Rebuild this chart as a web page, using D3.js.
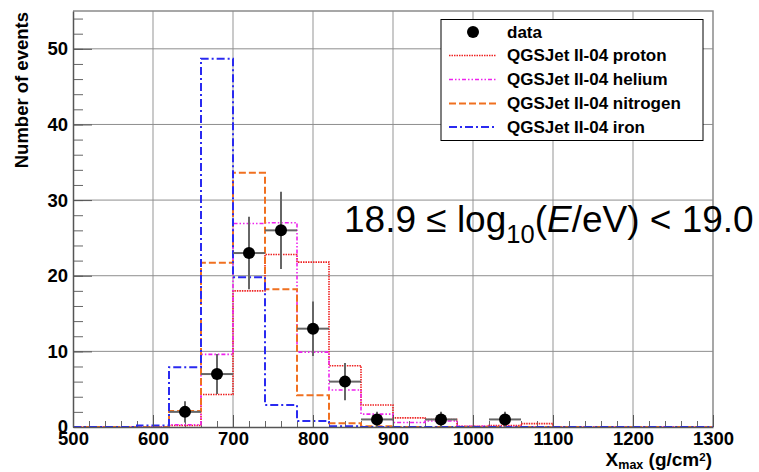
<!DOCTYPE html>
<html>
<head>
<meta charset="utf-8">
<script src="https://cdn.jsdelivr.net/npm/d3@7"></script>
<style>
  html, body { margin: 0; padding: 0; background: #fff; }
  svg { display: block; font-family: "Liberation Sans", Arial, Helvetica, sans-serif; }
</style>
</head>
<body>
<svg id="chart" width="759" height="472"></svg>
<script>
// ---- data ----
const binEdges = [500,540,580,620,660,700,740,780,820,860,900,940,980,1020,1060,1100,1140,1180,1220,1260,1300];
const proton   = [0,0,0,0.2,4.3,18.0,22.8,21.8,8.1,2.9,1.2,1.0,0.1,0.2,0.45,0,0,0,0,0];
const helium   = [0,0,0,0.3,9.6,26.9,27.0,9.9,4.9,1.7,0.6,0.8,0.1,0.05,0,0,0,0,0,0];
const nitrogen = [0,0,0,2.1,21.7,33.6,18.2,4.2,0.5,0.1,0,0,0,0,0,0,0,0,0,0];
const iron     = [0,0,0.2,7.9,48.7,19.8,2.9,0.8,0.1,0,0,0,0,0,0,0,0,0,0,0];
const dataX    = [640,680,720,760,800,840,880,960,1040];
const dataY    = [2,7,23,26,13,6,1,1,1];
const dataErr  = [1.41,2.65,4.8,5.1,3.6,2.45,1,1,1];
const dataXErr = [20,20,20,20,20,20,20,20,20];
const xTicks = [500,600,700,800,900,1000,1100,1200,1300];
const yTicks = [0,10,20,30,40,50];
const legendLabels = ["data","QGSJet II-04 proton","QGSJet II-04 helium","QGSJet II-04 nitrogen","QGSJet II-04 iron"];

// ---- layout ----
const L = 73, R = 713, T = 11, B = 427;
const svg = d3.select("#chart");
svg.append("rect").attr("width",759).attr("height",472).attr("fill","#fff");

const x = d3.scaleLinear().domain([500,1300]).range([L,R]);
const y = d3.scaleLinear().domain([0,55]).range([B,T]);

// grid
svg.append("g").selectAll("line").data(xTicks.slice(1,-1)).join("line")
  .attr("x1",d=>x(d)).attr("x2",d=>x(d)).attr("y1",T).attr("y2",B)
  .attr("stroke","#b8b8b8").attr("stroke-width",1.5);
svg.append("g").selectAll("line").data(yTicks.slice(1)).join("line")
  .attr("x1",L).attr("x2",R).attr("y1",d=>y(d)).attr("y2",d=>y(d))
  .attr("stroke","#8e8e8e").attr("stroke-width",1);

// frame top/right
svg.append("path").attr("d",`M${L},${T}H${R}V${B}`).attr("fill","none")
  .attr("stroke","#8a8a8a").attr("stroke-width",1.5);

// minor ticks
const xMinor = d3.range(500,1301,20);
const yMinor = d3.range(0,55,2);
svg.append("g").attr("transform",`translate(0,${B})`)
  .call(d3.axisBottom(x).tickValues(xMinor).tickSizeInner(-6).tickSizeOuter(0).tickFormat(""))
  .call(g=>g.select(".domain").remove())
  .call(g=>g.selectAll("line").attr("stroke","#666"));
svg.append("g").attr("transform",`translate(${L},0)`)
  .call(d3.axisLeft(y).tickValues(yMinor).tickSizeInner(-10).tickSizeOuter(0).tickFormat(""))
  .call(g=>g.select(".domain").remove())
  .call(g=>g.selectAll("line").attr("stroke","#666"));

// histograms
const stepLine = d3.line().x(d=>x(d[0])).y(d=>y(d[1])).curve(d3.curveStepAfter);
function histPts(vals){
  const pts = vals.map((v,i)=>[binEdges[i], v]);
  pts.push([binEdges[binEdges.length-1], vals[vals.length-1]]);
  return pts;
}
const series = [
  {vals: proton,   color:"#ee2222", dash:"1.5,1",       w:1.6},
  {vals: helium,   color:"#ee22ee", dash:"4,2,1.5,2,1.5,2", w:1.6},
  {vals: nitrogen, color:"#f07020", dash:"7,3",         w:2},
  {vals: iron,     color:"#2a2af0", dash:"8,3,2,3",     w:2}
];
series.forEach(s=>{
  svg.append("path").attr("d",stepLine(histPts(s.vals)))
    .attr("fill","none").attr("stroke",s.color).attr("stroke-width",s.w)
    .attr("stroke-dasharray",s.dash);
});

// axes lines (left / bottom) + major ticks
svg.append("g").attr("transform",`translate(0,${B})`)
  .call(d3.axisBottom(x).tickValues(xTicks).tickSizeInner(-12).tickSizeOuter(0).tickPadding(5).tickFormat(d3.format("d")))
  .call(g=>g.select(".domain").attr("stroke","#555").attr("stroke-width",1.5))
  .call(g=>g.selectAll("line").attr("stroke","#555"))
  .call(g=>g.selectAll("text").attr("font-size",18.5).attr("font-weight","bold").attr("fill","#000")
      .attr("font-family","'Liberation Sans', Arial, sans-serif"));
svg.append("g").attr("transform",`translate(${L},0)`)
  .call(d3.axisLeft(y).tickValues(yTicks).tickSizeInner(-19).tickSizeOuter(0).tickPadding(5).tickFormat(d3.format("d")))
  .call(g=>g.select(".domain").attr("stroke","#555").attr("stroke-width",1.5))
  .call(g=>g.selectAll("line").attr("stroke","#555"))
  .call(g=>g.selectAll("text").attr("font-size",18.5).attr("font-weight","bold").attr("fill","#000")
      .attr("font-family","'Liberation Sans', Arial, sans-serif"));

// data points
const pts = dataX.map((d,i)=>({x:d, y:dataY[i], e:dataErr[i], ex:dataXErr[i]}));
const dg = svg.append("g");
dg.selectAll("line.ex").data(pts).join("line").attr("class","ex")
  .attr("x1",d=>x(d.x-d.ex)).attr("x2",d=>x(d.x+d.ex)).attr("y1",d=>y(d.y)).attr("y2",d=>y(d.y))
  .attr("stroke","#666").attr("stroke-width",2);
dg.selectAll("line.ey").data(pts).join("line").attr("class","ey")
  .attr("x1",d=>x(d.x)).attr("x2",d=>x(d.x)).attr("y1",d=>y(Math.max(0,d.y-d.e))).attr("y2",d=>y(d.y+d.e))
  .attr("stroke","#666").attr("stroke-width",2);
dg.selectAll("circle").data(pts).join("circle")
  .attr("cx",d=>x(d.x)).attr("cy",d=>y(d.y)).attr("r",6).attr("fill","#000");

// legend
const lg = svg.append("g");
lg.append("rect").attr("x",441).attr("y",19.5).attr("width",262).attr("height",121)
  .attr("fill","#fff").attr("stroke","#000").attr("stroke-width",1);
const rowY = [32,55.5,79.5,103.5,127];
legendLabels.forEach((lab,i)=>{
  if(i===0){
    lg.append("circle").attr("cx",473).attr("cy",rowY[i]).attr("r",6).attr("fill","#000");
  } else {
    const s = series[i-1];
    lg.append("line").attr("x1",449).attr("x2",496).attr("y1",rowY[i]).attr("y2",rowY[i])
      .attr("stroke",s.color).attr("stroke-width",s.w).attr("stroke-dasharray",s.dash);
  }
  lg.append("text").attr("x",507).attr("y",rowY[i]).attr("dy","0.35em")
    .attr("font-size",17).attr("font-weight","bold").text(lab);
});

// annotation
const ann = svg.append("text").attr("x",344).attr("y",232).attr("font-size",37).attr("fill","#000");
ann.append("tspan").text("18.9 \u2264 log");
ann.append("tspan").attr("font-size",25.5).attr("dy",11).text("10");
ann.append("tspan").attr("dy",-11).text("(");
ann.append("tspan").attr("font-style","italic").text("E");
ann.append("tspan").text("/eV) < 19.0");

// axis titles
svg.append("text").attr("transform","translate(28,12) rotate(-90)")
  .attr("text-anchor","end").attr("font-size",18.5).attr("font-weight","bold").text("Number of events");
const xt = svg.append("text").attr("x",712).attr("y",466).attr("text-anchor","end")
  .attr("font-size",19).attr("font-weight","bold");
xt.append("tspan").text("X");
xt.append("tspan").attr("font-size",12.5).attr("dy",3).text("max");
xt.append("tspan").attr("dy",-3).text(" (g/cm");
xt.append("tspan").attr("font-size",11.5).attr("dy",-5.5).text("2");
xt.append("tspan").attr("dy",5.5).text(")");
</script>
</body>
</html>
